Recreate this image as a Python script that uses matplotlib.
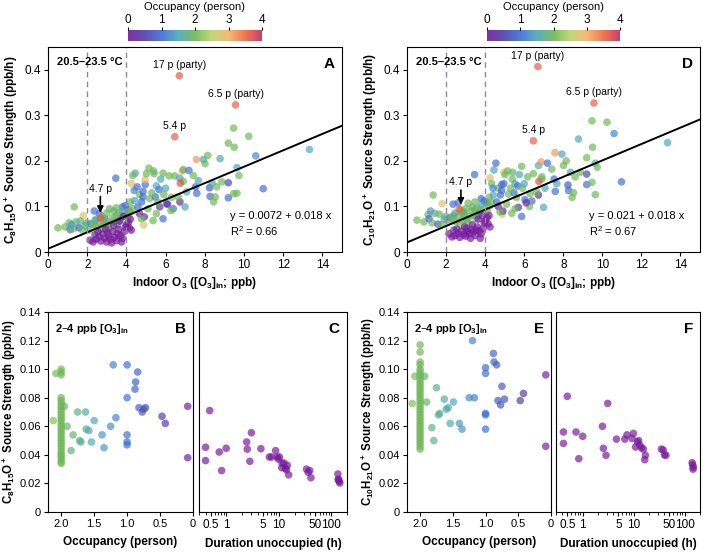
import numpy as np
import matplotlib.pyplot as plt
from matplotlib.colors import LinearSegmentedColormap, Normalize
from matplotlib.cm import ScalarMappable
from matplotlib.ticker import LogLocator, NullFormatter

plt.rcParams['font.family'] = ['Liberation Sans', 'DejaVu Sans']
plt.rcParams['mathtext.default'] = 'regular'
plt.rcParams['font.size'] = 8

# ---- top panels (A, D): indoor O3 vs source strength, coloured by occupancy ----
o3_in = [0.51, 0.87, 1.08, 1.13, 1.28, 1.34, 1.42, 1.58, 1.76, 1.80, 1.97, 2.10, 1.20, 1.65, 1.90,
         2.36, 2.62, 2.91, 3.80, 3.95, 4.09, 3.46, 2.20, 3.05,
         2.30, 2.40, 2.50, 2.60, 2.70, 2.81, 2.85, 2.95, 3.00, 3.13, 3.10, 3.20, 3.30, 3.35, 3.40,
         3.48, 3.50, 3.55, 3.60, 3.70, 3.80, 3.95, 2.75, 2.45, 3.65, 4.20, 4.30, 4.20, 4.10,
         2.15, 2.30, 2.45, 2.55, 2.60, 2.70, 2.80, 2.90, 2.95, 3.00, 3.10, 3.20, 3.25, 3.30, 3.35,
         3.40, 3.50, 3.55, 3.60, 3.65, 3.70, 3.75, 3.80, 3.85, 3.90, 3.95, 4.00, 4.10, 4.15, 4.20,
         4.25, 2.40, 3.05,
         4.25, 4.45, 4.33, 4.55, 4.67, 4.85, 4.96, 4.96, 5.02, 5.15, 5.39, 5.41, 4.85, 4.78, 5.19,
         5.53, 5.67, 5.48, 5.70, 6.04, 5.91, 5.87, 6.18, 6.47, 6.73, 6.90, 6.75, 6.87, 6.90, 6.73,
         6.39, 6.64, 7.07, 6.99, 7.19, 7.57, 7.41, 7.53, 7.59, 7.67, 7.93, 8.01, 8.15, 8.27, 8.24,
         8.37, 8.53, 8.61, 8.78, 8.87, 9.20, 9.20, 9.47, 9.64, 9.64, 9.74, 9.47, 10.24, 9.50, 9.20,
         10.60, 10.98, 13.34, 9.57, 6.70, 6.47, 2.67, 4.88, 5.36, 4.91, 4.67, 4.76, 4.42, 4.59,
         5.10, 5.53, 5.87, 6.27, 5.30, 5.60, 6.00, 6.30, 4.40, 5.75, 6.10, 8.45]
c8_src = [0.053, 0.055, 0.064, 0.049, 0.051, 0.099, 0.066, 0.053, 0.048, 0.080, 0.064, 0.048, 0.060, 0.068, 0.058,
          0.090, 0.084, 0.073, 0.099, 0.102, 0.093, 0.162, 0.062, 0.060,
          0.060, 0.069, 0.055, 0.065, 0.050, 0.069, 0.058, 0.062, 0.085, 0.095, 0.052, 0.065, 0.075, 0.090, 0.068,
          0.097, 0.080, 0.060, 0.085, 0.075, 0.090, 0.082, 0.078, 0.072, 0.068, 0.088, 0.095, 0.110, 0.078,
          0.026, 0.022, 0.028, 0.045, 0.033, 0.024, 0.040, 0.030, 0.050, 0.022, 0.035, 0.028, 0.020, 0.045, 0.058,
          0.032, 0.025, 0.040, 0.050, 0.068, 0.036, 0.022, 0.030, 0.078, 0.045, 0.055, 0.060, 0.065, 0.053, 0.072,
          0.048, 0.038, 0.042,
          0.151, 0.173, 0.168, 0.143, 0.126, 0.133, 0.148, 0.159, 0.172, 0.184, 0.178, 0.172, 0.121, 0.110, 0.117,
          0.145, 0.137, 0.121, 0.099, 0.106, 0.126, 0.173, 0.167, 0.167, 0.162, 0.155, 0.151, 0.178, 0.181, 0.110,
          0.095, 0.121, 0.132, 0.099, 0.179, 0.203, 0.168, 0.143, 0.129, 0.157, 0.203, 0.194, 0.212, 0.122, 0.141,
          0.151, 0.121, 0.143, 0.205, 0.154, 0.152, 0.119, 0.128, 0.129, 0.185, 0.168, 0.272, 0.254, 0.230, 0.239,
          0.211, 0.139, 0.225, 0.323, 0.387, 0.253, 0.075, 0.059, 0.069, 0.077, 0.084, 0.073, 0.113, 0.099,
          0.095, 0.084, 0.073, 0.091, 0.130, 0.110, 0.140, 0.120, 0.135, 0.160, 0.105, 0.110]
c10_src = [0.070, 0.066, 0.082, 0.073, 0.064, 0.125, 0.085, 0.061, 0.060, 0.106, 0.078, 0.066, 0.090, 0.083, 0.072,
           0.105, 0.108, 0.088, 0.117, 0.112, 0.108, 0.170, 0.076, 0.072,
           0.073, 0.080, 0.066, 0.078, 0.062, 0.085, 0.070, 0.081, 0.095, 0.107, 0.066, 0.078, 0.090, 0.098, 0.080,
           0.110, 0.092, 0.074, 0.096, 0.088, 0.103, 0.095, 0.092, 0.085, 0.082, 0.100, 0.110, 0.120, 0.090,
           0.040, 0.033, 0.036, 0.050, 0.041, 0.032, 0.046, 0.038, 0.055, 0.035, 0.045, 0.040, 0.030, 0.050, 0.060,
           0.044, 0.036, 0.048, 0.055, 0.072, 0.046, 0.030, 0.040, 0.080, 0.052, 0.064, 0.068, 0.075, 0.062, 0.080,
           0.055, 0.048, 0.052,
           0.163, 0.180, 0.150, 0.195, 0.140, 0.148, 0.150, 0.175, 0.170, 0.178, 0.160, 0.175, 0.135, 0.125, 0.127,
           0.150, 0.145, 0.130, 0.098, 0.115, 0.140, 0.188, 0.165, 0.172, 0.190, 0.160, 0.155, 0.198, 0.165, 0.125,
           0.112, 0.132, 0.140, 0.098, 0.195, 0.218, 0.182, 0.160, 0.133, 0.150, 0.215, 0.190, 0.200, 0.135, 0.147,
           0.175, 0.130, 0.165, 0.248, 0.175, 0.171, 0.148, 0.153, 0.126, 0.195, 0.186, 0.288, 0.285, 0.230, 0.207,
           0.260, 0.154, 0.240, 0.327, 0.407, 0.244, 0.094, 0.083, 0.085, 0.090, 0.100, 0.088, 0.125, 0.110,
           0.105, 0.095, 0.078, 0.100, 0.140, 0.120, 0.150, 0.128, 0.140, 0.170, 0.108, 0.120]
occ_top = [2.0, 2.0, 2.0, 1.0, 2.0, 2.0, 1.8, 0.8, 2.0, 2.8, 2.0, 2.0, 1.4, 1.9, 1.6,
           1.0, 1.0, 0.9, 1.0, 1.0, 1.1, 1.0, 1.2, 1.3,
           2.0, 2.0, 2.0, 2.0, 2.0, 2.0, 2.0, 1.9, 2.0, 2.0, 2.0, 2.0, 2.0, 1.7, 2.0,
           2.0, 2.0, 1.8, 2.0, 2.0, 1.5, 2.0, 2.0, 1.6, 1.4, 2.0, 2.0, 2.0, 1.9,
           0.0, 0.0, 0.0, 0.0, 0.0, 0.0, 0.0, 0.0, 0.0, 0.0, 0.0, 0.0, 0.0, 0.0, 0.0,
           0.0, 0.0, 0.0, 0.0, 0.0, 0.0, 0.0, 0.0, 0.1, 0.0, 0.0, 0.0, 0.0, 0.0, 0.0,
           0.0, 0.2, 0.1,
           2.8, 1.5, 2.0, 1.0, 2.0, 1.0, 1.0, 2.9, 2.0, 2.0, 2.0, 1.9, 1.0, 1.0, 2.0,
           1.5, 1.0, 1.0, 0.3, 1.0, 2.0, 2.0, 2.0, 2.0, 1.5, 2.0, 3.7, 3.2, 2.0, 0.2,
           1.0, 2.0, 1.5, 1.5, 1.0, 3.2, 2.0, 1.0, 1.0, 1.5, 1.5, 2.0, 2.0, 1.0, 0.8,
           1.5, 2.0, 2.0, 1.5, 2.0, 0.6, 1.0, 2.0, 2.0, 1.5, 2.0, 2.0, 2.0, 2.0, 2.0,
           1.2, 1.0, 1.5, 3.6, 3.6, 3.6, 3.6, 2.7, 2.0, 0.2, 0.1, 2.0, 1.5, 1.0,
           2.0, 2.0, 1.0, 2.0, 2.0, 2.0, 1.5, 2.0, 1.2, 1.5, 0.2, 2.0]

fit_c8 = (0.0072, 0.018, 0.66)
fit_c10 = (0.021, 0.018, 0.67)

# ---- panels B, E: 2-4 ppb O3, strength vs occupancy ----
col_occ = 2.0
b_col_c8 = [0.034, 0.035, 0.037, 0.039, 0.040, 0.042, 0.044, 0.046, 0.048, 0.050, 0.052, 0.054, 0.056,
            0.058, 0.060, 0.062, 0.064, 0.066, 0.068, 0.070, 0.072, 0.074, 0.076, 0.078, 0.080,
            0.096, 0.098, 0.100]
b_occ = [2.12, 2.08, 1.95, 1.91, 1.82, 1.85, 1.75, 1.72, 1.70, 1.63, 1.62, 1.58, 1.54, 1.50, 1.38,
         1.35, 1.25, 1.17, 1.21, 1.00, 1.00, 1.00, 1.00, 1.00, 0.84, 0.87, 0.88, 0.82, 0.77, 0.75,
         0.72, 0.47, 0.42, 0.08, 0.08]
b_c8 = [0.064, 0.097, 0.074, 0.060, 0.054, 0.043, 0.070, 0.050, 0.049, 0.070, 0.058, 0.057, 0.049,
        0.064, 0.054, 0.045, 0.060, 0.066, 0.103, 0.103, 0.080, 0.054, 0.049, 0.047, 0.098, 0.091,
        0.086, 0.073, 0.070, 0.072, 0.073, 0.067, 0.062, 0.074, 0.038]

e_col_c10 = [0.044, 0.046, 0.048, 0.050, 0.052, 0.054, 0.056, 0.058, 0.060, 0.062, 0.064, 0.066, 0.068,
             0.070, 0.072, 0.074, 0.076, 0.078, 0.080, 0.082, 0.084, 0.086, 0.088, 0.090, 0.092, 0.094,
             0.096, 0.098, 0.100, 0.103, 0.105, 0.112, 0.117]
e_occ = [2.12, 2.08, 1.93, 1.90, 1.82, 1.79, 1.75, 1.72, 1.70, 1.63, 1.60, 1.57, 1.54, 1.49, 1.40,
         1.36, 1.25, 1.17, 1.20, 1.00, 1.00, 1.00, 1.00, 1.00, 0.88, 0.87, 0.83, 0.75, 0.81, 0.77,
         0.71, 0.47, 0.42, 0.08, 0.08]
e_c10 = [0.076, 0.095, 0.095, 0.077, 0.059, 0.050, 0.087, 0.068, 0.069, 0.079, 0.072, 0.073, 0.062,
         0.077, 0.062, 0.058, 0.080, 0.080, 0.120, 0.101, 0.097, 0.069, 0.068, 0.058, 0.111, 0.105,
         0.103, 0.088, 0.078, 0.075, 0.079, 0.078, 0.083, 0.096, 0.046]

# ---- panels C, F: unoccupied periods, strength vs time since occupied ----
c_hours = [0.40, 0.40, 0.48, 0.73, 0.81, 0.99, 2.44, 2.5, 3.0, 2.8, 4.55, 6.6, 7.3, 8.7, 9.3, 10.3,
           9.8, 11.6, 11.4, 12.5, 13.3, 14.5, 15.4, 14.0, 33.8, 36.3, 39.0, 41.0, 134, 138, 142, 146, 136]
c_c8 = [0.0453, 0.036, 0.071, 0.042, 0.029, 0.0446, 0.049, 0.044, 0.0555, 0.0355, 0.0443, 0.0385,
        0.0385, 0.043, 0.0385, 0.0385, 0.037, 0.034, 0.031, 0.0343, 0.0306, 0.0327, 0.026, 0.0296,
        0.030, 0.0278, 0.029, 0.024, 0.0266, 0.0229, 0.0215, 0.0203, 0.0226]
f_hours = [0.42, 0.42, 0.50, 0.74, 0.84, 1.0, 2.44, 2.55, 2.87, 3.1, 4.6, 6.7, 7.4, 9.3, 9.9, 10.9,
           11.9, 12.5, 13.3, 14.2, 15.5, 17.0, 16.5, 35, 38, 40, 43, 140, 144, 148, 146]
f_c10 = [0.056, 0.048, 0.081, 0.056, 0.0373, 0.053, 0.060, 0.0446, 0.0397, 0.076, 0.051, 0.051,
         0.054, 0.0515, 0.055, 0.0455, 0.049, 0.050, 0.0467, 0.045, 0.044, 0.0397, 0.0366, 0.044,
         0.0434, 0.040, 0.0397, 0.0345, 0.033, 0.0313, 0.030]
unocc = 0.0

cmap = LinearSegmentedColormap.from_list('occ', [
    (0.0, '#76189a'), (0.12, '#4e3ea6'), (0.25, '#3e6cd3'), (0.375, '#4aa6b8'),
    (0.5, '#6cb655'), (0.625, '#b9d46a'), (0.75, '#f3b46a'), (0.875, '#ee6a3e'), (1.0, '#c2285e')])
norm = Normalize(0, 4)

W, H = 703, 556
fig = plt.figure(figsize=(W / 100, H / 100), dpi=100)


def box(l, t, r, b):
    # pixel box -> figure fraction
    return [l / W, 1 - b / H, (r - l) / W, (b - t) / H]


dot = dict(s=30, alpha=0.68, linewidths=0, cmap=cmap, norm=norm)
bold = dict(fontweight='bold')
TICK = 8.5
LAB = 8.5


def top_panel(rect, cbrect, ys, fit, ylab, letter, notes):
    ax = fig.add_axes(box(*rect))
    ax.scatter(o3_in, ys, c=occ_top, **dot)
    xx = np.array([0, 15])
    ax.plot(xx, fit[0] + fit[1] * xx, color='black', lw=1.4)
    for xv in (2, 4):
        ax.axvline(xv, color='#8a8a99', lw=1, ls=(0, (4, 3)))
    ax.set_xlim(0, 15)
    ax.set_ylim(0, 0.45)
    ax.set_xticks(range(0, 15, 2))
    ax.set_yticks([0, 0.1, 0.2, 0.3, 0.4])
    ax.set_yticklabels(['0', '0.1', '0.2', '0.3', '0.4'])
    ax.tick_params(labelsize=TICK, length=3, pad=2)
    ax.set_xlabel('Indoor O$_3$ ([O$_3$]$_{in}$; ppb)', fontsize=LAB, labelpad=3, **bold)
    ax.set_ylabel(ylab, fontsize=LAB, labelpad=3, **bold)
    ax.text(0.03, 0.95, '20.5\u201323.5 \u00b0C', transform=ax.transAxes, fontsize=8, va='top', **bold)
    ax.text(0.975, 0.95, letter, transform=ax.transAxes, fontsize=11, va='top', ha='right', **bold)
    for txt, xp, yp in notes[:3]:
        ax.text(xp, yp, txt, fontsize=7.5, ha='center', va='bottom')
    txt, xp, yt, ya = notes[3]
    ax.annotate(txt, xy=(xp, ya), xytext=(xp, yt), fontsize=7.5, ha='center', va='bottom',
                arrowprops=dict(arrowstyle='-|>', color='black', lw=1.2, mutation_scale=9, shrinkA=0, shrinkB=0))
    ax.text(9.3, 0.078, f'y = {fit[0]} + {fit[1]} x', fontsize=8, va='center')
    ax.text(9.3, 0.045, f'$R^2$ = {fit[2]}', fontsize=8, va='center')

    cax = fig.add_axes(box(*cbrect))
    cb = fig.colorbar(ScalarMappable(norm=norm, cmap=cmap), cax=cax, orientation='horizontal', alpha=0.9)
    cb.outline.set_visible(False)
    cax.xaxis.set_ticks_position('top')
    cax.xaxis.set_label_position('top')
    cb.set_ticks([0, 1, 2, 3, 4])
    cax.tick_params(labelsize=TICK, length=2, pad=1)
    cb.set_label('Occupancy (person)', fontsize=8, labelpad=3)
    return ax


top_panel((48, 47, 342, 252), (128, 30, 262, 41), c8_src, fit_c8,
          'C$_8$H$_{15}$O$^+$ Source Strength (ppb/h)', 'A',
          [('17 p (party)', 6.7, 0.400), ('6.5 p (party)', 9.57, 0.336), ('5.4 p', 6.47, 0.266),
           ('4.7 p', 2.67, 0.128, 0.086)])
top_panel((407, 47, 700, 252), (487, 30, 620, 41), c10_src, fit_c10,
          'C$_{10}$H$_{21}$O$^+$ Source Strength (ppb/h)', 'D',
          [('17 p (party)', 6.7, 0.420), ('6.5 p (party)', 9.57, 0.340), ('5.4 p', 6.49, 0.257),
           ('4.7 p', 2.76, 0.142, 0.104)])


def bottom_pair(rl, rr, col_y, occ, ys, hours, hy, ylab, letters):
    axl = fig.add_axes(box(*rl))
    axl.scatter(np.full(len(col_y), col_occ), col_y, c=np.full(len(col_y), col_occ), **dot)
    axl.scatter(occ, ys, c=occ, **dot)
    axl.set_xlim(2.2, 0)
    axl.set_ylim(0, 0.14)
    axl.set_xticks([2.0, 1.5, 1.0, 0.5, 0])
    axl.set_xticklabels(['2.0', '1.5', '1.0', '0.5', '0'])
    axl.set_yticks(np.arange(0, 0.141, 0.02))
    axl.set_yticklabels(['0', '0.02', '0.04', '0.06', '0.08', '0.10', '0.12', '0.14'])
    axl.tick_params(labelsize=8, length=3, pad=2)
    axl.set_xlabel('Occupancy (person)', fontsize=LAB, labelpad=5, **bold)
    axl.set_ylabel(ylab, fontsize=8.3, labelpad=1, **bold)
    axl.text(0.05, 0.95, '2\u20134 ppb [O$_3$]$_{in}$', transform=axl.transAxes, fontsize=8, va='top', **bold)
    axl.text(0.95, 0.95, letters[0], transform=axl.transAxes, fontsize=11, va='top', ha='right', **bold)

    axr = fig.add_axes(box(*rr))
    axr.scatter(hours, hy, c=np.full(len(hours), unocc), **dot)
    axr.set_xscale('log')
    axr.set_xlim(0.3, 200)
    axr.set_ylim(0, 0.14)
    axr.set_xticks([0.5, 1, 5, 10, 50, 100])
    axr.set_xticklabels(['0.5', '1', '5', '10', '50', '100'])
    axr.xaxis.set_minor_locator(LogLocator(base=10, subs=np.arange(2, 10)))
    axr.xaxis.set_minor_formatter(NullFormatter())
    axr.set_yticks([])
    axr.tick_params(labelsize=TICK, length=3, pad=2)
    axr.tick_params(which='minor', length=2)
    axr.set_xlabel('Duration unoccupied (h)', fontsize=LAB, labelpad=5, **bold)
    axr.text(0.95, 0.95, letters[1], transform=axr.transAxes, fontsize=11, va='top', ha='right', **bold)


bottom_pair((48, 312, 193, 512), (199, 312, 347, 512), b_col_c8, b_occ, b_c8, c_hours, c_c8,
            'C$_8$H$_{15}$O$^+$ Source Strength (ppb/h)', 'BC')
bottom_pair((407, 312, 551, 512), (556, 312, 700, 512), e_col_c10, e_occ, e_c10, f_hours, f_c10,
            'C$_{10}$H$_{21}$O$^+$ Source Strength (ppb/h)', 'EF')

fig.savefig('out.png', dpi=100)
